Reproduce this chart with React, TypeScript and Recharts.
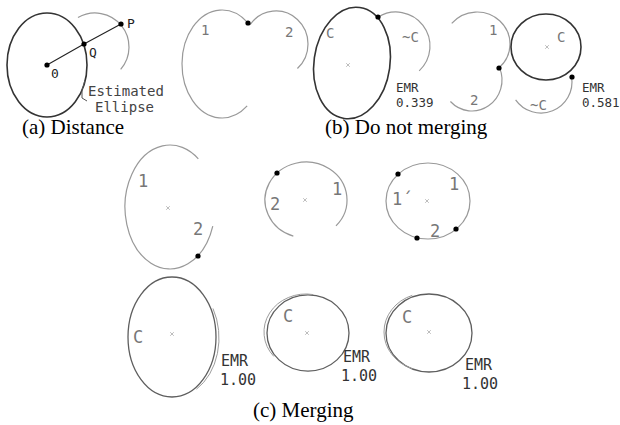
import { ScatterChart, Scatter, XAxis, YAxis } from 'recharts';

const W = 620;
const H = 425;
const X_MAX = 620;
const Y_MAX = 425;

// ellipse arcs (figure units), sweep in degrees clockwise from 3 o'clock
const arcCx = [47, 95, 222, 276, 352, 396, 477, 472, 546, 541, 170, 306, 428, 172, 174, 308, 306, 429, 427];
const arcCy = [65, 47, 64, 44, 63, 46, 44, 80, 47, 82, 207, 200, 201, 337, 338, 333, 332, 333, 332];
const arcRx = [40, 34, 40, 32, 38, 34, 33, 30, 35, 31, 45, 41, 42, 44, 45, 41, 42, 43, 43];
const arcRy = [52, 34, 54, 33, 56, 34, 32, 31, 33, 31, 62, 38, 38, 60, 59, 38, 38, 39, 39];
const arcTilt = [0, 0, 0, 0, 8, 0, 0, 0, 0, 0, 0, 0, 0, 0, 0, 0, 0, 0, 0];
const arcFrom = [0, 240, 51, 216, 0, 238, 220, -23, 0, -9, 18, 108, 0, 0, -30, 0, 140, 0, 110];
const arcTo = [360, 401, 310, 408, 360, 407, 408, 136, 360, 145, 309, 403, 360, 360, 60, 360, 280, 360, 250];
const arcKind = [
  'strong', 'faint', 'faint', 'faint', 'strong', 'faint', 'faint', 'faint', 'strong', 'faint',
  'faint', 'faint', 'faint', 'medium', 'ghost', 'medium', 'ghost', 'medium', 'ghost',
];

// junction / sample points
const dotX = [47, 84, 121, 248, 378, 499, 572, 198, 277, 398, 456, 417];
const dotY = [65, 44, 24, 23, 17, 68, 77, 256, 173, 174, 229, 238];

// ellipse centre marks
const markX = [348, 547, 168, 305, 427, 172, 307, 429];
const markY = [65, 47, 208, 200, 201, 334, 333, 332];

// distance ray O -> Q -> P
const rayX = [47, 84, 121];
const rayY = [65, 44, 24];

// pointer from "Estimated Ellipse" to the ellipse
const pointerX = [85, 82, 82, 87];
const pointerY = [80, 90, 98, 101];

const labelText = [
  '0', 'Q', 'P', 'Estimated', 'Ellipse',
  '1', '2', 'C', '~C', 'EMR', '0.339',
  '1', '2', 'C', '~C', 'EMR', '0.581',
  '1', '2', '1', '2', '1', '1´', '2',
  'C', 'C', 'C', 'EMR', '1.00', 'EMR', '1.00', 'EMR', '1.00',
  '(a) Distance', '(b) Do not merging', '(c) Merging',
];
const labelX = [
  51, 89, 127, 88, 95,
  201, 285, 326, 402, 396, 396,
  489, 470, 557, 530, 582, 582,
  138, 193, 332, 270, 449, 392, 430,
  133, 283, 402, 221, 220, 343, 341, 465, 462,
  22, 325, 253,
];
const labelY = [
  78, 57, 28, 96, 112,
  35, 37, 38, 42, 92, 107,
  35, 105, 42, 110, 92, 107,
  187, 235, 195, 210, 190, 205, 237,
  343, 322, 323, 366, 385, 362, 381, 370, 389,
  134, 134, 417,
];
const labelKind = [
  'mark', 'mark', 'mark', 'note', 'note',
  'seg', 'seg', 'seg', 'seg', 'num', 'num',
  'seg', 'seg', 'seg', 'seg', 'num', 'num',
  'segL', 'segL', 'segL', 'segL', 'segL', 'segL', 'segL',
  'segL', 'segL', 'segL', 'numL', 'numL', 'numL', 'numL', 'numL', 'numL',
  'cap', 'cap', 'cap',
];

const STROKES: Record<string, { color: string; width: number }> = {
  strong: { color: '#333333', width: 1.6 },
  medium: { color: '#5e5e5e', width: 1.3 },
  faint: { color: '#999999', width: 1.2 },
  ghost: { color: '#9c9c9c', width: 1 },
};

const MONO = "'DejaVu Sans Mono', monospace";
const TEXT: Record<string, { size: number; color: string; family: string }> = {
  mark: { size: 13, color: '#222', family: MONO },
  note: { size: 14, color: '#444', family: MONO },
  seg: { size: 14, color: '#777', family: MONO },
  segL: { size: 17, color: '#777', family: MONO },
  num: { size: 12.5, color: '#333', family: MONO },
  numL: { size: 15, color: '#333', family: MONO },
  cap: { size: 21, color: '#000', family: "'Liberation Serif', 'Times New Roman', serif" },
};

const arcData = arcCx.map((x, i) => ({
  x,
  y: arcCy[i],
  rx: arcRx[i],
  ry: arcRy[i],
  tilt: arcTilt[i],
  from: arcFrom[i],
  to: arcTo[i],
  kind: arcKind[i],
}));
const dotData = dotX.map((x, i) => ({ x, y: dotY[i] }));
const markData = markX.map((x, i) => ({ x, y: markY[i] }));
const rayData = rayX.map((x, i) => ({ x, y: rayY[i] }));
const pointerData = pointerX.map((x, i) => ({ x, y: pointerY[i] }));
const labelData = labelText.map((text, i) => ({ x: labelX[i], y: labelY[i], text, kind: labelKind[i] }));

function ArcShape(props: any) {
  const { cx, cy, payload } = props;
  const rx = (payload.rx * W) / X_MAX;
  const ry = (payload.ry * H) / Y_MAX;
  const rad = Math.PI / 180;
  const tilt = payload.tilt * rad;
  const pt = (deg: number) => {
    const t = deg * rad;
    const ex = rx * Math.cos(t);
    const ey = ry * Math.sin(t);
    return [cx + ex * Math.cos(tilt) - ey * Math.sin(tilt), cy + ex * Math.sin(tilt) + ey * Math.cos(tilt)];
  };
  const span = payload.to - payload.from;
  let d = '';
  if (span >= 360) {
    const [x0, y0] = pt(0);
    const [x1, y1] = pt(180);
    d = `M${x0},${y0} A${rx},${ry} ${payload.tilt} 1 1 ${x1},${y1} A${rx},${ry} ${payload.tilt} 1 1 ${x0},${y0}Z`;
  } else {
    const [x0, y0] = pt(payload.from);
    const [x1, y1] = pt(payload.to);
    d = `M${x0},${y0} A${rx},${ry} ${payload.tilt} ${span > 180 ? 1 : 0} 1 ${x1},${y1}`;
  }
  const s = STROKES[payload.kind];
  return <path d={d} fill="none" stroke={s.color} strokeWidth={s.width} />;
}

function DotShape(props: any) {
  return <circle cx={props.cx} cy={props.cy} r={2.6} fill="#000" />;
}

function MarkShape(props: any) {
  const { cx, cy } = props;
  return (
    <path
      d={`M${cx - 1.8},${cy - 1.8}L${cx + 1.8},${cy + 1.8}M${cx + 1.8},${cy - 1.8}L${cx - 1.8},${cy + 1.8}`}
      stroke="#b5b5b5"
      strokeWidth={0.9}
    />
  );
}

function LabelShape(props: any) {
  const { cx, cy, payload } = props;
  const t = TEXT[payload.kind];
  return (
    <text x={cx} y={cy} fontFamily={t.family} fontSize={t.size} fill={t.color}>
      {payload.text}
    </text>
  );
}

const Nothing = () => <g />;

export default function App() {
  return (
    <div style={{ position: 'absolute', left: 0, top: 0, width: W, height: H, background: '#fff' }}>
      <ScatterChart width={W} height={H} margin={{ top: 0, right: 0, bottom: 0, left: 0 }}>
        <XAxis type="number" dataKey="x" domain={[0, X_MAX]} hide allowDataOverflow />
        <YAxis type="number" dataKey="y" domain={[0, Y_MAX]} reversed hide allowDataOverflow />
        <Scatter data={arcData} shape={ArcShape} isAnimationActive={false} />
        <Scatter data={rayData} line={{ stroke: '#222', strokeWidth: 1.1 }} shape={Nothing} isAnimationActive={false} />
        <Scatter data={pointerData} line={{ stroke: '#555', strokeWidth: 1 }} lineType="joint" shape={Nothing} isAnimationActive={false} />
        <Scatter data={markData} shape={MarkShape} isAnimationActive={false} />
        <Scatter data={dotData} shape={DotShape} isAnimationActive={false} />
        <Scatter data={labelData} shape={LabelShape} isAnimationActive={false} />
      </ScatterChart>
    </div>
  );
}
